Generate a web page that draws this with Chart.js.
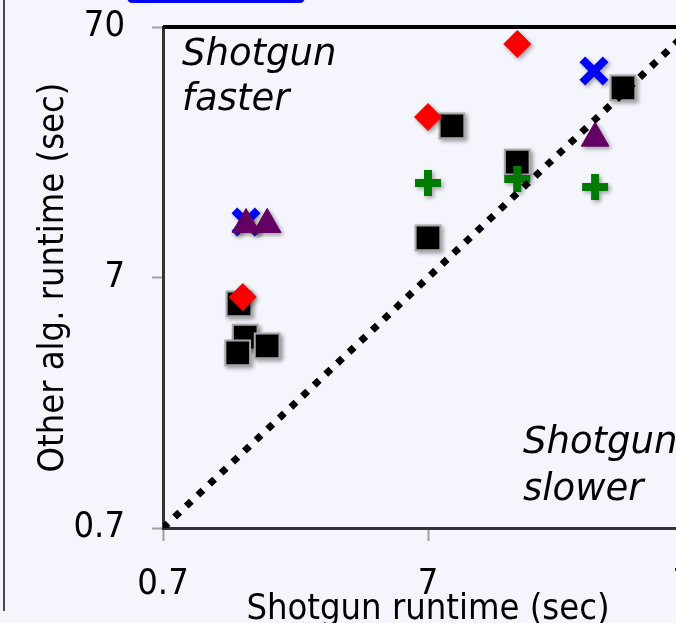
<!DOCTYPE html>
<html><head><meta charset="utf-8">
<script src="https://cdn.jsdelivr.net/npm/chart.js@4/dist/chart.umd.min.js"></script>
<style>
html,body{margin:0;padding:0;background:#f5f5fd;overflow:hidden;width:676px;height:623px;}
#wrap{position:relative;width:676px;height:623px;overflow:hidden;}
canvas{position:absolute;left:0;top:0;}
#bar{position:absolute;left:127px;top:-8px;width:178px;height:11px;background:#0000ff;border-radius:6px;}
#edge{position:absolute;left:3px;top:0;width:2px;height:611px;background:#4a4a55;}
</style></head><body>
<div id="wrap"><canvas id="c" width="720" height="623" style="width:720px;height:623px"></canvas><div id="bar"></div><div id="edge"></div></div>
<script>
// axis ticks
const xTicks = [0.7, 7, 70];
const yTicks = [0.7, 7, 70];
// Shotgun runtime (x) vs other algorithm runtime (y), seconds
const squaresX  = [1.355, 1.43, 1.34, 1.73, 7.0, 8.62, 15.2, 38.1];
const squaresY  = [5.49, 4.05, 3.50, 3.73, 10.07, 28.2, 20.2, 40.0];
const diamondsX = [1.40, 7.0, 15.2];
const diamondsY = [5.85, 30.6, 59.9];
const xMarksX   = [1.44, 29.6];
const xMarksY   = [11.66, 46.7];
const trianglesX = [1.44, 1.73, 29.9];
const trianglesY = [11.4, 11.4, 25.2];
const crossesX  = [7.0, 15.2, 29.9];
const crossesY  = [16.7, 17.3, 16.1];
const diagX = [0.7, 70];
const diagY = [0.7, 70];
const annotFaster = ['Shotgun', 'faster'];
const annotSlower = ['Shotgun', 'slower'];

const pts = (xs, ys) => xs.map((x, i) => ({x: x, y: ys[i]}));
const COND = '"DejaVu Sans Condensed", "DejaVu Sans", sans-serif';

const shadowPlugin = {
  id: 'shadow',
  beforeDatasetDraw(chart, args) {
    if (args.meta.type === 'scatter') {
      const ctx = chart.ctx;
      ctx.save();
      ctx.shadowColor = 'rgba(0,0,0,0.35)';
      ctx.shadowBlur = 4;
      ctx.shadowOffsetX = 2;
      ctx.shadowOffsetY = 2;
    }
  },
  afterDatasetDraw(chart, args) {
    if (args.meta.type === 'scatter') chart.ctx.restore();
  }
};

const framePlugin = {
  id: 'frame',
  beforeDatasetsDraw(chart) {
    const ctx = chart.ctx, a = chart.chartArea;
    ctx.save();
    ctx.strokeStyle = '#000';
    ctx.lineWidth = 4;
    ctx.beginPath();
    ctx.moveTo(a.left, a.top);
    ctx.lineTo(a.right, a.top);
    ctx.stroke();
    ctx.fillStyle = '#000';
    ctx.font = 'italic 37px "DejaVu Sans", sans-serif';
    ctx.textBaseline = 'alphabetic';
    ctx.textAlign = 'left';
    ctx.fillText(annotFaster[0], a.left + 19, a.top + 38);
    ctx.fillText(annotFaster[1], a.left + 19, a.top + 83);
    ctx.fillText(annotSlower[0], a.left + 360, a.top + 426);
    ctx.fillText(annotSlower[1], a.left + 360, a.top + 473);
    ctx.restore();
  }
};

new Chart(document.getElementById('c'), {
  type: 'scatter',
  data: {
    datasets: [
      { type: 'line', data: pts(diagX, diagY), showLine: true, pointRadius: 0,
        borderColor: '#000', borderWidth: 7, borderDash: [7, 9], borderCapStyle: 'butt',
        fill: false, order: 0 },
      { data: pts(crossesX, crossesY), pointStyle: 'cross', pointRadius: 13,
        borderColor: '#007a00', backgroundColor: '#007a00', borderWidth: 8, order: 1 },
      { data: pts(trianglesX, trianglesY), pointStyle: 'triangle', pointRadius: 16,
        borderColor: '#660066', backgroundColor: '#660066', borderWidth: 1, order: 2 },
      { data: pts(diamondsX, diamondsY), pointStyle: 'rectRot', pointRadius: 13.5,
        borderColor: '#ff0000', backgroundColor: '#ff0000', borderWidth: 1, order: 3 },
      { data: pts(squaresX, squaresY), pointStyle: 'rect', pointRadius: 17.5,
        borderColor: '#a8a8a8', backgroundColor: '#000', borderWidth: 2, order: 4 },
      { data: pts(xMarksX, xMarksY), pointStyle: 'crossRot', pointRadius: 16.5,
        borderColor: '#0000ff', backgroundColor: '#0000ff', borderWidth: 8, order: 5 }
    ]
  },
  options: {
    responsive: false,
    animation: false,
    devicePixelRatio: 1,
    events: [],
    layout: { padding: { top: 27, right: 27, left: 0, bottom: 0 } },
    plugins: { legend: { display: false }, tooltip: { enabled: false } },
    scales: {
      x: {
        type: 'logarithmic', min: 0.7, max: 70,
        afterBuildTicks: s => { s.ticks = xTicks.map(v => ({value: v})); },
        afterFit: s => { s.height = 95; s.paddingLeft = 0; s.paddingRight = 0; },
        ticks: { callback: v => String(v), color: '#000', padding: 22, maxRotation: 0,
                 font: { family: COND, size: 36 } },
        grid: { drawOnChartArea: false, drawTicks: true, tickLength: 13, tickColor: '#a0a0a0', tickWidth: 2 },
        border: { display: true, color: '#333', width: 3 },
        title: { display: true, text: 'Shotgun runtime (sec)', color: '#000',
                 font: { family: COND, size: 36 }, padding: { top: 0, bottom: -8 } }
      },
      y: {
        type: 'logarithmic', min: 0.7, max: 70,
        afterBuildTicks: s => { s.ticks = yTicks.map(v => ({value: v})); },
        afterFit: s => { s.width = 163; s.paddingTop = 0; s.paddingBottom = 0; },
        ticks: { callback: v => String(v), color: '#000', padding: 27,
                 font: { family: COND, size: 36 } },
        grid: { drawOnChartArea: false, drawTicks: true, tickLength: 11, tickColor: '#a0a0a0', tickWidth: 2 },
        border: { display: true, color: '#333', width: 3 },
        title: { display: true, text: 'Other alg. runtime (sec)', color: '#000',
                 font: { family: COND, size: 36 }, padding: { top: 32, bottom: 0 } }
      }
    }
  },
  plugins: [shadowPlugin, framePlugin]
});
</script>
</body></html>
